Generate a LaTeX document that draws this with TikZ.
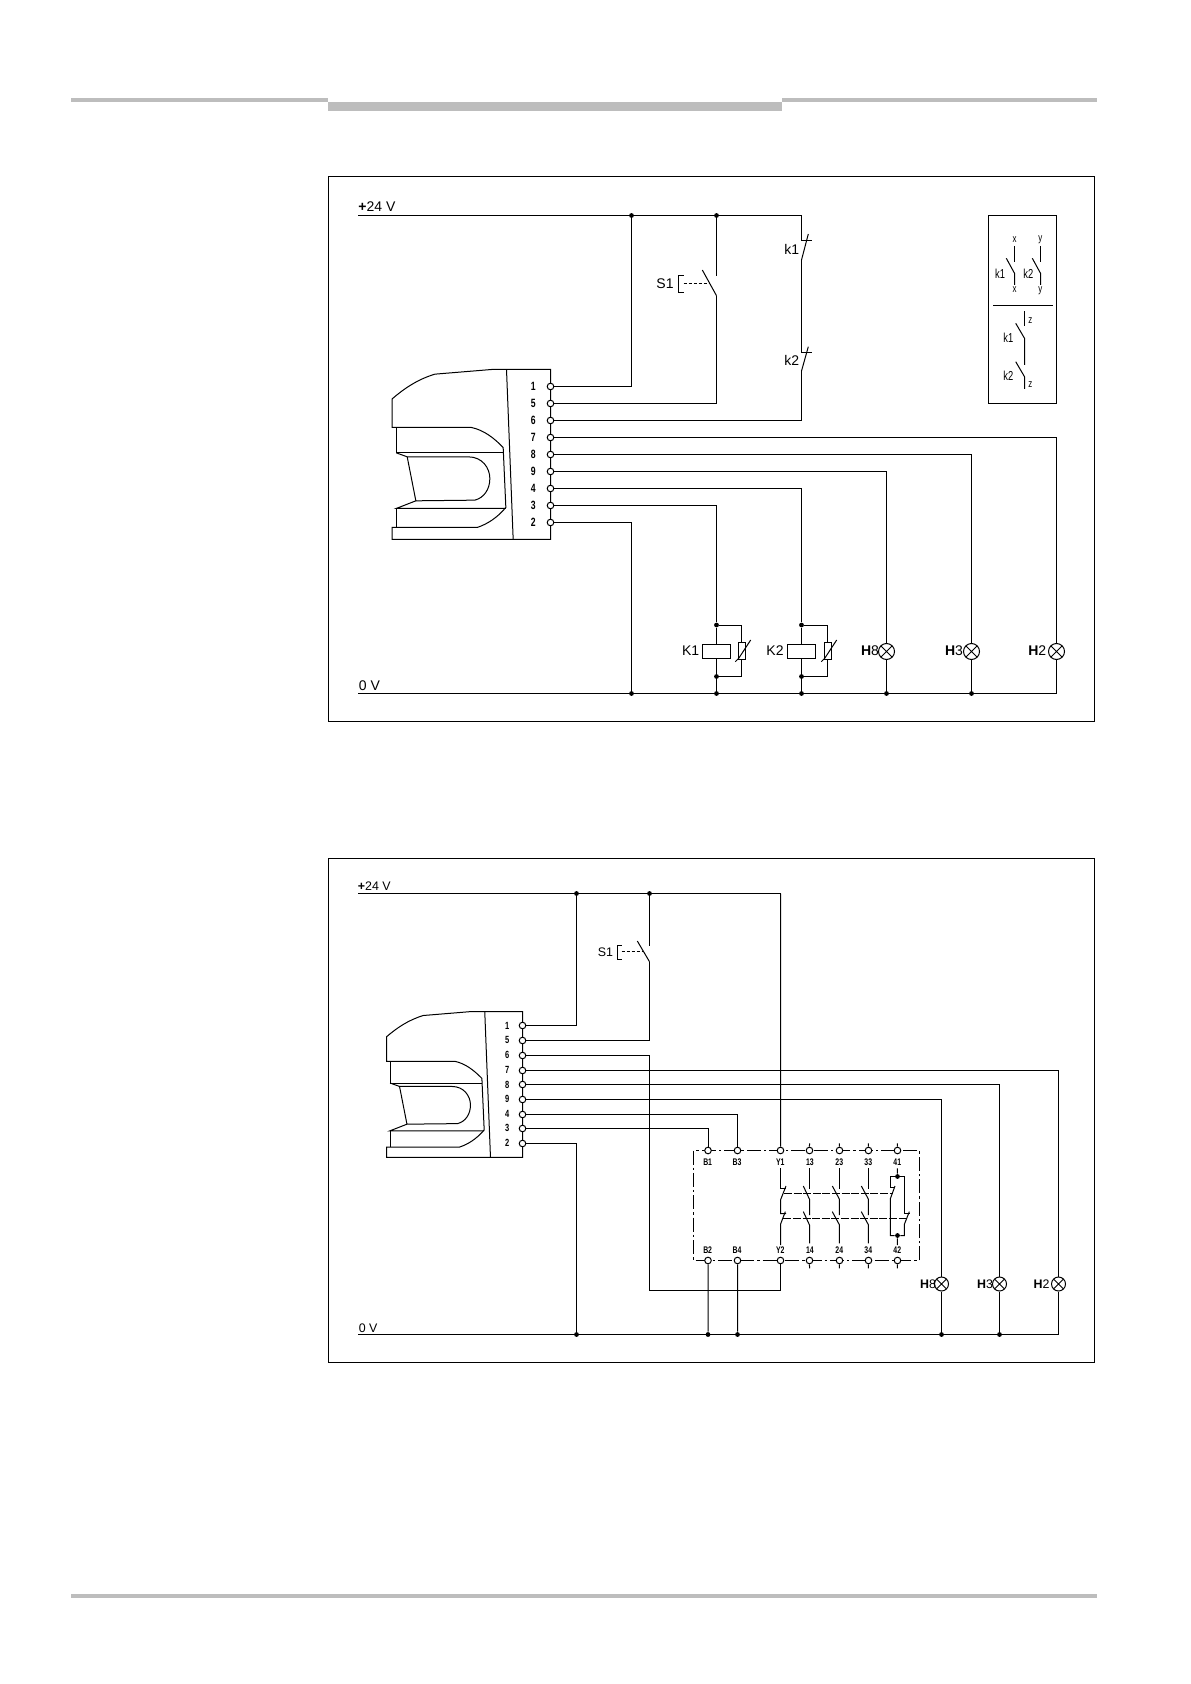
\documentclass[tikz,border=0pt]{standalone}
\usepackage{fontspec}
\usepackage{xcolor}
\setmainfont{Liberation Sans}
\newfontfamily\narrowfont[FakeStretch=0.72]{Liberation Sans}
\definecolor{bargray}{HTML}{BDBDBD}
\tikzset{
  wire/.style={line width=0.5pt},
  pin/.style={circle,draw,fill=white,inner sep=0pt,minimum size=3.3pt,line width=0.5pt},
  dot/.style={circle,fill=black,inner sep=0pt,minimum size=2.4pt},
  lamp/.style={circle,draw,inner sep=0pt,minimum size=#1,line width=0.5pt,
    path picture={\draw[line width=0.4pt] (path picture bounding box.south west) -- (path picture bounding box.north east)
      (path picture bounding box.north west) -- (path picture bounding box.south east);}},
  big/.style={inner sep=0pt,font=\fontsize{7}{8}\selectfont},
  mid/.style={inner sep=0pt,font=\fontsize{6.2}{7}\selectfont},
  num/.style={inner sep=0pt,font=\narrowfont\fontsize{6}{7}\bfseries\selectfont},
  snum/.style={inner sep=0pt,font=\narrowfont\fontsize{5.2}{6}\bfseries\selectfont},
  rnum/.style={inner sep=0pt,font=\narrowfont\fontsize{4.8}{6}\bfseries\selectfont},
  tiny/.style={inner sep=0pt,font=\narrowfont\fontsize{5.5}{6}\selectfont},
  tlab/.style={inner sep=0pt,font=\narrowfont\fontsize{6.5}{7}\selectfont},
  fine/.style={line width=0.5pt,dash pattern=on 1.6pt off 0.9pt},
  scanner/.pic={
    \draw[wire] (0,0) -- (-177,0) -- (-347,14) .. controls (-400,30) and (-440,58) .. (-475,88)
      -- (-475,174) -- (-237,174) .. controls (-200,182) and (-170,205) .. (-142,234) -- (-134,414)
      .. controls (-160,445) and (-190,464) .. (-220,474) -- (-475,474) -- (-475,510) -- (0,510) -- cycle;
    \draw[wire] (-132,0) -- (-112,510);
    \draw[wire] (-463,174) -- (-463,250) -- (-142,250);
    \draw[wire] (-463,250) -- (-430,262) -- (-247,262) .. controls (-205,262) and (-182,295) .. (-182,327)
      .. controls (-182,360) and (-200,385) .. (-227,392) -- (-404,394) -- (-430,262);
    \draw[wire] (-404,394) -- (-463,417) -- (-134,417);
    \draw[wire] (-463,417) -- (-463,474);
  },
}
\begin{document}
\begin{tikzpicture}[x=0.5pt,y=-0.5pt]
    \useasboundingbox (0,0) rectangle (1190,1684);

    % Page bars
    \fill[bargray] (71,98) rectangle (328,102);
    \fill[bargray] (328,102) rectangle (782,111);
    \fill[bargray] (782,98) rectangle (1097,102);
    \fill[bargray] (71,1594) rectangle (1097,1598);

    % Upper frame
    \draw[line width=0.65pt] (328.5,176.5) rectangle (1094.5,721.5);
    \pic[scale=0.3333] at (550.5,369.5) {scanner};
    \node[pin] (a1) at (550.5,386.5) {};
    \node[pin] (a5) at (550.5,403.5) {};
    \node[pin] (a6) at (550.5,420.5) {};
    \node[pin] (a7) at (550.5,437.5) {};
    \node[pin] (a8) at (550.5,454.5) {};
    \node[pin] (a9) at (550.5,471.5) {};
    \node[pin] (a4) at (550.5,488.5) {};
    \node[pin] (a3) at (550.5,505.5) {};
    \node[pin] (a2) at (550.5,522.5) {};
    \node[num] (na1) at (533.3,386.7) {1};
    \node[num] (na5) at (533.3,403.7) {5};
    \node[num] (na6) at (533.3,420.7) {6};
    \node[num] (na7) at (533.3,437.7) {7};
    \node[num] (na8) at (533.3,454.7) {8};
    \node[num] (na9) at (533.3,471.7) {9};
    \node[num] (na4) at (533.3,488.7) {4};
    \node[num] (na3) at (533.3,505.7) {3};
    \node[num] (na2) at (533.3,522.7) {2};

    % Upper rails
    \coordinate (up) at (358,215.5);
    \coordinate (uc) at (801.5,215.5);
    \coordinate (un) at (358,693.5);
    \coordinate (ue) at (1056.5,693.5);
    \node[dot] (uj1) at (631.5,215.5) {};
    \node[dot] (uj2) at (716.5,215.5) {};
    \node[dot] (uj3) at (631.5,693.5) {};
    \node[dot] (uj4) at (716.5,693.5) {};
    \node[dot] (uj5) at (801.5,693.5) {};
    \node[dot] (uj6) at (886.5,693.5) {};
    \node[dot] (uj7) at (971.5,693.5) {};
    \draw[wire] (up) -- (uc);
    \draw[wire] (un) -- (ue);
    \node[big,anchor=west] (lp) at (358,206.5) {\textbf{+}24 V};
    \node[big,anchor=west] (ln) at (358.5,685.5) {0 V};

    % Upper switch S1
    \coordinate (s1a) at (716.5,276);
    \coordinate (s1b) at (716.5,295.7);
    \draw[wire] (uj2) -- (s1a);
    \draw[wire] (s1b) -- (702.3,270);
    \draw[wire] (s1b) |- (a5);
    \draw[fine] (683.5,283.5) -- (710,283.5);
    \draw[wire] (683.5,275.5) -- (678.5,275.5) -- (678.5,292.5) -- (683.5,292.5);
    \node[big] (ls1) at (665,283.3) {S1};

    % Upper contacts k1 k2
    \coordinate (k1a) at (801.5,240.5);
    \coordinate (k1b) at (801.5,260);
    \coordinate (k2a) at (801.5,352.5);
    \coordinate (k2b) at (801.5,371);
    \draw[wire] (uc) -- (k1a) -- (811.7,240.5);
    \draw[wire] (k1b) -- (808.3,234);
    \draw[wire] (k1b) -- (k2a) -- (811.7,352.5);
    \draw[wire] (k2b) -- (808.3,346.7);
    \draw[wire] (k2b) |- (a6);
    \node[big] (lk1) at (791.7,249.3) {k1};
    \node[big] (lk2) at (791.7,360.7) {k2};

    % Upper wires
    \draw[wire] (a1) -| (uj1);
    \draw[wire] (a2) -| (uj3);

    % Relay coils
    \node[dot] (kt1) at (716.5,625) {};
    \node[dot] (kb1) at (716.5,676.5) {};
    \node[dot] (kt2) at (801.5,625) {};
    \node[dot] (kb2) at (801.5,676.5) {};
    \node[draw,wire,fill=white,inner sep=0pt,minimum width=14pt,minimum height=7pt] (k1) at (716.5,651.5) {};
    \node[draw,wire,fill=white,inner sep=0pt,minimum width=14pt,minimum height=7pt] (k2) at (801.5,651.5) {};
    \node[draw,wire,inner sep=0pt,minimum width=3.5pt,minimum height=8.7pt] (v1) at (741.5,651) {};
    \node[draw,wire,inner sep=0pt,minimum width=3.5pt,minimum height=8.7pt] (v2) at (827.5,651) {};
    \draw[wire] (a3) -| (kt1);
    \draw[wire] (a4) -| (kt2);
    \draw[wire] (kt1) -- (k1);
    \draw[wire] (k1) -- (kb1);
    \draw[wire] (kb1) -- (uj4);
    \draw[wire] (kt2) -- (k2);
    \draw[wire] (k2) -- (kb2);
    \draw[wire] (kb2) -- (uj5);
    \draw[wire] (kt1) -| (v1);
    \draw[wire] (kb1) -| (v1);
    \draw[wire] (kt2) -| (v2);
    \draw[wire] (kb2) -| (v2);
    \draw[wire] (735.3,661.7) -- (738.7,658.3) -- (750.7,640);
    \draw[wire] (821.3,661.7) -- (824.7,658.3) -- (836.7,640);
    \node[big] (lk1c) at (690.7,650.7) {K1};
    \node[big] (lk2c) at (775,650.7) {K2};

    % Upper lamps
    \node[lamp=8pt] (h8) at (886.5,651.5) {};
    \node[lamp=8pt] (h3) at (971.5,651.5) {};
    \node[lamp=8pt] (h2) at (1056.5,651.5) {};
    \draw[wire] (a9) -| (h8);
    \draw[wire] (a8) -| (h3);
    \draw[wire] (a7) -| (h2);
    \draw[wire] (h8) -- (uj6);
    \draw[wire] (h3) -- (uj7);
    \draw[wire] (h2) -- (ue);
    \node[big] (lh8) at (870,651) {\textbf{H}8};
    \node[big] (lh3) at (954,651) {\textbf{H}3};
    \node[big] (lh2) at (1037.3,651) {\textbf{H}2};

    % Contact table
    \draw[wire] (988.5,215.5) rectangle (1056.5,403.5);
    \draw[wire] (993,305.5) -- (1052.7,305.5);
    \draw[wire] (1014.5,246) -- (1014.5,261.7);
    \draw[wire] (1006.3,258.3) -- (1014.5,273.3) -- (1014.5,285);
    \draw[wire] (1040.5,246) -- (1040.5,261.7);
    \draw[wire] (1032.3,258.3) -- (1040.5,273.3) -- (1040.5,285);
    \draw[wire] (1024.5,311.3) -- (1024.5,325.7);
    \draw[wire] (1015.7,323.3) -- (1024.5,338.3) -- (1024.5,365);
    \draw[wire] (1015.7,361.7) -- (1024.5,376.7) -- (1024.5,389);
    \node[tiny] (tx1) at (1014.7,239.5) {x};
    \node[tiny] (tx2) at (1014.7,290) {x};
    \node[tiny] (ty1) at (1040.3,240) {y};
    \node[tiny] (ty2) at (1040.3,290.5) {y};
    \node[tiny] (tz1) at (1030.3,320.5) {z};
    \node[tiny] (tz2) at (1030.3,385) {z};
    \node[tlab] (tk1) at (1000,273.3) {k1};
    \node[tlab] (tk2) at (1028.3,273.3) {k2};
    \node[tlab] (tk3) at (1008.3,337.7) {k1};
    \node[tlab] (tk4) at (1008.3,376) {k2};

    % Lower frame
    \draw[line width=0.65pt] (328.5,858.5) rectangle (1094.5,1362.5);
    \pic[scale=0.286] at (522.5,1011.5) {scanner};
    \node[pin] (b1) at (522.5,1025.5) {};
    \node[pin] (b5) at (522.5,1040.5) {};
    \node[pin] (b6) at (522.5,1055.5) {};
    \node[pin] (b7) at (522.5,1070.5) {};
    \node[pin] (b8) at (522.5,1084.5) {};
    \node[pin] (b9) at (522.5,1099.5) {};
    \node[pin] (b4) at (522.5,1114.5) {};
    \node[pin] (b3) at (522.5,1128.5) {};
    \node[pin] (b2) at (522.5,1143.5) {};
    \node[snum] (nb1) at (507.3,1025.7) {1};
    \node[snum] (nb5) at (507.3,1040.3) {5};
    \node[snum] (nb6) at (507.3,1055.3) {6};
    \node[snum] (nb7) at (507.3,1070) {7};
    \node[snum] (nb8) at (507.3,1084.7) {8};
    \node[snum] (nb9) at (507.3,1099.3) {9};
    \node[snum] (nb4) at (507.3,1114) {4};
    \node[snum] (nb3) at (507.3,1128.3) {3};
    \node[snum] (nb2) at (507.3,1143.3) {2};

    % Lower rails
    \coordinate (lpa) at (358,893.5);
    \coordinate (lpe) at (780.5,893.5);
    \coordinate (lna) at (358,1334.5);
    \coordinate (lne) at (1058.5,1334.5);
    \node[dot] (lj1) at (576.5,893.5) {};
    \node[dot] (lj2) at (649.5,893.5) {};
    \node[dot] (lj3) at (576.5,1334.5) {};
    \node[dot] (lj4) at (708,1334.5) {};
    \node[dot] (lj5) at (737.5,1334.5) {};
    \node[dot] (lj6) at (941.5,1334.5) {};
    \node[dot] (lj7) at (999.5,1334.5) {};
    \draw[wire] (lpa) -- (lpe);
    \draw[wire] (lna) -- (lne);
    \node[mid,anchor=west] (llp) at (357.5,886.5) {\textbf{+}24 V};
    \node[mid,anchor=west] (lln) at (358.5,1328) {0 V};

    % Lower switch S1
    \coordinate (s2a) at (649.5,945.7);
    \coordinate (s2b) at (649.5,961.7);
    \draw[wire] (lj2) -- (s2a);
    \draw[wire] (s2b) -- (637.3,941);
    \draw[wire] (s2b) |- (b5);
    \draw[fine] (621.5,951.5) -- (643.3,951.5);
    \draw[wire] (621.5,945.5) -- (617.5,945.5) -- (617.5,959.5) -- (621.5,959.5);
    \node[mid] (ls2) at (605.5,952) {S1};

    % Safety relay, in units of a third of a pixel
    \begin{scope}[shift={(680,1130)},scale=0.3333]
        \draw[wire,dash pattern=on 7pt off 1.5pt on 1.2pt off 1.5pt] (40.5,61.5) rectangle (718.5,391.5);
        \node[pin] (tb1) at (84,61.5) {};
        \node[pin] (tb3) at (172.5,61.5) {};
        \node[pin] (ty1t) at (301.5,61.5) {};
        \node[pin] (t13) at (388.5,61.5) {};
        \node[pin] (t23) at (478.5,61.5) {};
        \node[pin] (t33) at (565.5,61.5) {};
        \node[pin] (t41) at (652.5,61.5) {};
        \node[pin] (tb2) at (84,391.5) {};
        \node[pin] (tb4) at (172.5,391.5) {};
        \node[pin] (ty2t) at (301.5,391.5) {};
        \node[pin] (t14) at (388.5,391.5) {};
        \node[pin] (t24) at (478.5,391.5) {};
        \node[pin] (t34) at (565.5,391.5) {};
        \node[pin] (t42) at (652.5,391.5) {};
        \node[rnum] (lb1) at (83,96) {B1};
        \node[rnum] (lb3) at (171,96) {B3};
        \node[rnum] (ly1) at (301,96) {Y1};
        \node[rnum] (l13) at (390,96) {13};
        \node[rnum] (l23) at (478,96) {23};
        \node[rnum] (l33) at (565,96) {33};
        \node[rnum] (l41) at (652,96) {41};
        \node[rnum] (lb2) at (83,360) {B2};
        \node[rnum] (lb4) at (171,360) {B4};
        \node[rnum] (ly2) at (301,360) {Y2};
        \node[rnum] (l14) at (390,360) {14};
        \node[rnum] (l24) at (478,360) {24};
        \node[rnum] (l34) at (565,360) {34};
        \node[rnum] (l42) at (652,360) {42};

        % Stubs
        \draw[wire] (t13) -- (388.5,40);
        \draw[wire] (t23) -- (478.5,40);
        \draw[wire] (t33) -- (565.5,40);
        \draw[wire] (t41) -- (652.5,40);
        \draw[wire] (t14) -- (388.5,415);
        \draw[wire] (t24) -- (478.5,415);
        \draw[wire] (t34) -- (565.5,415);
        \draw[wire] (t42) -- (652.5,415);

        % Y contacts
        \draw[wire] (301.5,115) -- (301.5,175.5) -- (318,175.5);
        \draw[wire] (318,168) -- (301.5,210) -- (301.5,250.5) -- (318,250.5);
        \draw[wire] (316,245) -- (301.5,283) -- (301.5,345);

        % Output contacts
        \draw[wire] (388.5,115) -- (388.5,178);
        \draw[wire] (370,168) -- (388.5,208) -- (388.5,255);
        \draw[wire] (370,245) -- (388.5,285) -- (388.5,340);
        \draw[wire] (478.5,115) -- (478.5,178);
        \draw[wire] (457,168) -- (478.5,208) -- (478.5,255);
        \draw[wire] (457,245) -- (478.5,285) -- (478.5,340);
        \draw[wire] (565.5,115) -- (565.5,178);
        \draw[wire] (544,168) -- (565.5,208) -- (565.5,255);
        \draw[wire] (544,245) -- (565.5,285) -- (565.5,340);

        % Feedback contacts
        \node[dot] (fb1) at (652.5,139.5) {};
        \node[dot] (fb2) at (652.5,316.5) {};
        \draw[wire] (652.5,115) -- (fb1);
        \draw[wire] (fb2) -- (652.5,345);
        \draw[wire] (fb1) -| (631.5,172.5) -- (642,172.5);
        \draw[wire] (645,168) -- (631.5,205) |- (fb2);
        \draw[wire] (fb1) -| (673.5,250.5) -- (690,250.5);
        \draw[wire] (688,245) -- (673.5,282) |- (fb2);

        % Actuators
        \draw[wire,dash pattern=on 4pt off 0.8pt] (312,190.5) -- (640,190.5);
        \draw[wire,dash pattern=on 4pt off 0.8pt] (310,265.5) -- (680,265.5);
    \end{scope}

    % Lower wires
    \coordinate (y2c) at (649.5,1290.5);
    \draw[wire] (b1) -| (lj1);
    \draw[wire] (b2) -| (lj3);
    \draw[wire] (b6) -| (y2c);
    \draw[wire] (y2c) -| (ty2t);
    \draw[wire] (b3) -| (tb1);
    \draw[wire] (b4) -| (tb3);
    \draw[wire] (lpe) -- (ty1t);
    \draw[wire] (tb2) -- (lj4);
    \draw[wire] (tb4) -- (lj5);

    % Lower lamps
    \node[lamp=7pt] (h8l) at (941.5,1284) {};
    \node[lamp=7pt] (h3l) at (999.5,1284) {};
    \node[lamp=7pt] (h2l) at (1058.5,1284) {};
    \draw[wire] (b9) -| (h8l);
    \draw[wire] (b8) -| (h3l);
    \draw[wire] (b7) -| (h2l);
    \draw[wire] (h8l) -- (lj6);
    \draw[wire] (h3l) -- (lj7);
    \draw[wire] (h2l) -- (lne);
    \node[mid] (lh8l) at (928,1284) {\textbf{H}8};
    \node[mid] (lh3l) at (985,1284) {\textbf{H}3};
    \node[mid] (lh2l) at (1041.5,1284) {\textbf{H}2};
\end{tikzpicture}
\end{document}
